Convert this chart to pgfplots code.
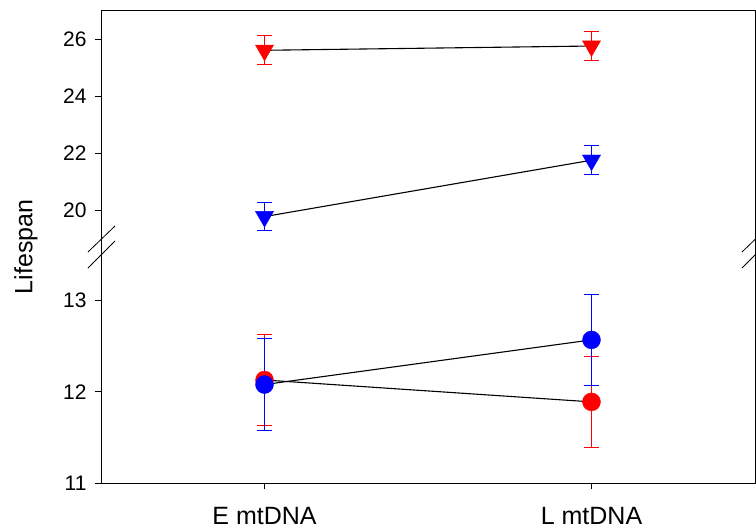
\documentclass[border=0pt]{standalone}
\usepackage{fontspec}
\setmainfont{Liberation Sans}
\usepackage{pgfplots}
\pgfplotsset{compat=1.18}
\begin{document}
\begin{tikzpicture}
\pgfplotsset{
  brk/.style={
    scale only axis, width=654pt, height=236pt,
    xmin=-0.5, xmax=1.5,
    axis line style={draw=none},
    tick align=outside, major tick length=6pt,
    ytick pos=left, xtick pos=bottom,
    tick style={black, line width=1pt},
    /pgf/number format/assume math mode=true,
    yticklabel style={font=\fontsize{21}{25}\selectfont, xshift=-5pt},
    xticklabel style={font=\fontsize{25}{30}\selectfont, yshift=-15pt},
  },
  conn/.style={black, line width=1.1pt, mark=none},
  ser/.style={only marks, color=#1, draw=#1,
    error bars/y dir=both, error bars/y explicit,
    error bars/error bar style={draw=#1, color=#1, line width=1pt},
    error bars/error mark options={draw=#1, color=#1, rotate=90, mark size=7.5pt, line width=1pt}},
  tri/.style={mark=triangle*, mark size=10.5pt, mark options={fill=#1, draw=#1, rotate=180}},
  dot/.style={mark=*, mark size=9pt, mark options={fill=#1, draw=#1}},
}
% upper part of the broken axis
\begin{axis}[brk, at={(0,236pt)}, anchor=south west,
    ymin=18.712, ymax=27, ytick={20,22,24,26}, xtick=\empty]
  \addplot[conn] coordinates {(0,25.62) (1,25.77)};
  \addplot[conn] coordinates {(0,19.78) (1,21.76)};
  \addplot[ser=red, tri=red] coordinates {(0,25.62) +- (0,0.51) (1,25.77) +- (0,0.50)};
  \addplot[ser=blue, tri=blue] coordinates {(0,19.78) +- (0,0.50) (1,21.76) +- (0,0.51)};
  \coordinate (tr) at (rel axis cs:1,1);
\end{axis}
% lower part
\begin{axis}[brk, at={(0,0)}, anchor=south west,
    ymin=11, ymax=13.589, ytick={11,12,13},
    xtick={0,1}, xticklabels={E mtDNA, L mtDNA}]
  \addplot[conn] coordinates {(0,12.13) (1,11.89)};
  \addplot[conn] coordinates {(0,12.08) (1,12.57)};
  \addplot[ser=red, dot=red] coordinates {(0,12.13) +- (0,0.50) (1,11.89) +- (0,0.50)};
  \addplot[ser=blue, dot=blue] coordinates {(0,12.08) +- (0,0.50) (1,12.57) +- (0,0.50)};
  \coordinate (bl) at (rel axis cs:0,0);
  \coordinate (jl) at (rel axis cs:0,1);
  \coordinate (jr) at (rel axis cs:1,1);
\end{axis}
\draw[line width=1pt] (bl) rectangle (tr);
\foreach \p in {jl,jr} {
  \draw[line width=0.8pt] ([shift={(-13pt,-5pt)}]\p) -- ([shift={(14pt,21pt)}]\p);
  \draw[line width=0.8pt] ([shift={(-13pt,-21pt)}]\p) -- ([shift={(14pt,6pt)}]\p);
}
\node[rotate=90, font=\fontsize{25}{30}\selectfont] at ([xshift=-75pt]jl) {Lifespan};
\pgfresetboundingbox
\path ([shift={(-101pt,-46pt)}]bl) rectangle ([shift={(1pt,11pt)}]tr);
\end{tikzpicture}
\end{document}
